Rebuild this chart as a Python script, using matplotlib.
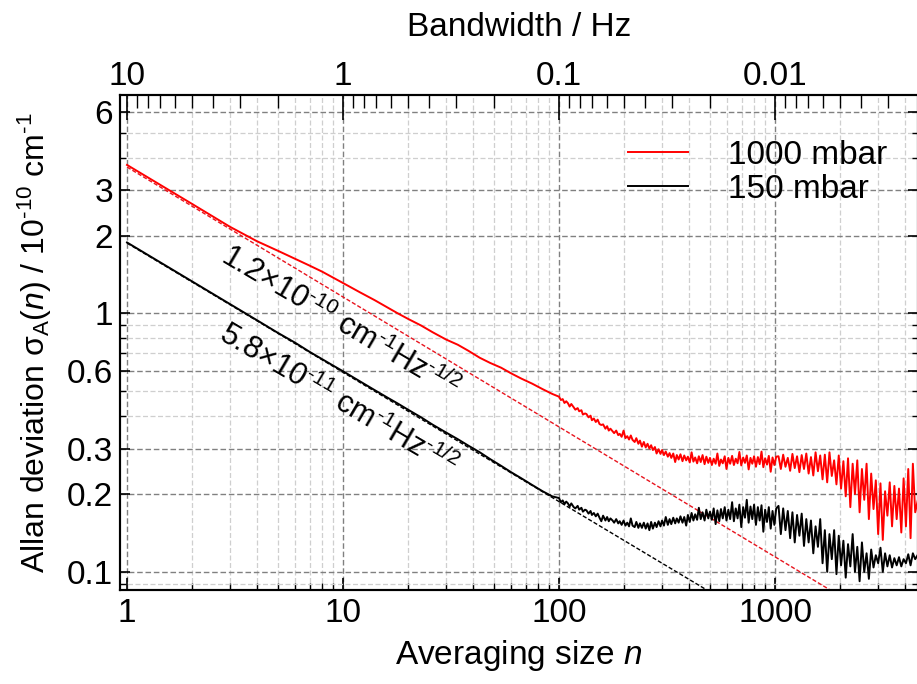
import numpy as np
import matplotlib
matplotlib.use("Agg")
import matplotlib.pyplot as plt
from matplotlib.ticker import LogLocator, NullFormatter

plt.rcParams['font.family'] = ['Liberation Sans', 'DejaVu Sans']
plt.rcParams['mathtext.fontset'] = 'custom'
plt.rcParams['mathtext.rm'] = 'Liberation Sans'
plt.rcParams['mathtext.it'] = 'Liberation Sans:italic'
plt.rcParams['mathtext.bf'] = 'Liberation Sans:bold'

# averaging size n
n_avg = [1, 2, 3, 4, 5, 6, 7, 8, 9, 10, 12, 14, 16, 18, 20, 23, 26, 30, 34, 38,
         43, 48, 54, 60, 67, 75, 84, 93,
         100, 102, 104, 106, 108, 110, 112, 114, 117, 119,
         122, 124, 127, 129, 132, 134, 137, 140, 142, 145,
         148, 151, 154, 157, 160, 164, 167, 170, 173, 177,
         180, 184, 188, 191, 195, 199, 203, 207, 211, 215,
         219, 224, 228, 233, 237, 242, 247, 252, 257, 262,
         267, 272, 278, 283, 289, 295, 300, 306, 312, 319,
         325, 331, 338, 345, 351, 358, 365, 373, 380, 388,
         395, 403, 411, 419, 427, 436, 444, 453, 462, 472,
         481, 491, 500, 510, 520, 531, 541, 552, 562, 573,
         585, 596, 608, 620, 633, 645, 658, 671, 684, 698,
         712, 726, 740, 755, 770, 785, 800, 816, 833, 849,
         866, 883, 900, 918, 936, 955, 974, 993, 1013,
         1038, 1064, 1091, 1118, 1146, 1175, 1204, 1234, 1265, 1297, 1329, 1362,
         1396, 1431, 1467, 1504, 1541, 1580, 1619, 1660, 1701, 1744, 1787, 1832,
         1878, 1925, 1973, 2022, 2073, 2125, 2178, 2232, 2288, 2345, 2404, 2464,
         2526, 2589, 2654, 2720, 2788, 2858, 2929, 3003, 3078, 3155, 3233, 3314,
         3397, 3482, 3569, 3658, 3750, 3843, 3939, 4038, 4139, 4242, 4348, 4457, 4680]

# Allan deviation, 1000 mbar (red)
sig_1000 = [3.75, 2.65, 2.16, 1.90, 1.745, 1.625, 1.53, 1.45, 1.375, 1.31, 1.205,
            1.125, 1.055, 0.998, 0.952, 0.897, 0.845, 0.792, 0.756, 0.717, 0.673,
            0.643, 0.616, 0.586, 0.559, 0.535, 0.509, 0.488,
            0.476, 0.462, 0.466, 0.450, 0.457, 0.449, 0.436, 0.446, 0.433, 0.424,
            0.430, 0.418, 0.422, 0.406, 0.410, 0.408, 0.396, 0.402, 0.386, 0.392,
            0.380, 0.388, 0.373, 0.370, 0.372, 0.358, 0.366, 0.352, 0.358, 0.350,
            0.344, 0.352, 0.338, 0.342, 0.333, 0.352, 0.329, 0.335, 0.325, 0.337,
            0.324, 0.318, 0.329, 0.313, 0.322, 0.305, 0.318, 0.303, 0.313, 0.300,
            0.309, 0.296, 0.304, 0.287, 0.298, 0.286, 0.296, 0.283, 0.292, 0.279,
            0.288, 0.276, 0.287, 0.266, 0.283, 0.272, 0.285, 0.268, 0.282, 0.270,
            0.279, 0.265, 0.290, 0.267, 0.277, 0.263, 0.280, 0.266, 0.283, 0.261,
            0.279, 0.264, 0.276, 0.259, 0.274, 0.262, 0.287, 0.257, 0.272, 0.263,
            0.280, 0.250, 0.276, 0.262, 0.281, 0.259, 0.274, 0.263, 0.291, 0.258,
            0.277, 0.264, 0.282, 0.249, 0.276, 0.262, 0.280, 0.255, 0.278, 0.261,
            0.292, 0.254, 0.275, 0.260, 0.281, 0.244, 0.277, 0.259, 0.279,
            0.280, 0.250, 0.284, 0.255, 0.276, 0.246, 0.286, 0.252, 0.280, 0.243,
            0.283, 0.250, 0.287, 0.240, 0.278, 0.236, 0.290, 0.245, 0.282, 0.228,
            0.284, 0.222, 0.290, 0.235, 0.270, 0.218, 0.282, 0.210, 0.268, 0.196,
            0.275, 0.178, 0.262, 0.200, 0.270, 0.170, 0.250, 0.190, 0.262, 0.160,
            0.240, 0.175, 0.226, 0.140, 0.220, 0.133, 0.205, 0.165, 0.222, 0.150,
            0.215, 0.160, 0.210, 0.142, 0.230, 0.150, 0.250, 0.135, 0.262, 0.170,
            0.205]

# Allan deviation, 150 mbar (black)
sig_150 = [1.88, 1.33, 1.085, 0.94, 0.84, 0.77, 0.71, 0.665, 0.628, 0.597, 0.545,
           0.505, 0.473, 0.447, 0.424, 0.396, 0.371, 0.346, 0.326, 0.308, 0.290,
           0.273, 0.257, 0.243, 0.230, 0.217, 0.205, 0.196,
           0.193, 0.186, 0.189, 0.183, 0.187, 0.184, 0.179, 0.184, 0.178, 0.176,
           0.180, 0.174, 0.177, 0.171, 0.174, 0.173, 0.168, 0.172, 0.166, 0.169,
           0.164, 0.168, 0.162, 0.157, 0.165, 0.158, 0.163, 0.157, 0.161, 0.158,
           0.155, 0.160, 0.154, 0.157, 0.152, 0.158, 0.151, 0.155, 0.150, 0.161,
           0.151, 0.149, 0.156, 0.148, 0.154, 0.148, 0.155, 0.147, 0.154, 0.145,
           0.156, 0.147, 0.155, 0.149, 0.157, 0.150, 0.158, 0.151, 0.163, 0.152,
           0.160, 0.153, 0.162, 0.154, 0.161, 0.155, 0.164, 0.155, 0.163, 0.151,
           0.166, 0.156, 0.169, 0.158, 0.167, 0.159, 0.177, 0.160, 0.170, 0.158,
           0.174, 0.161, 0.171, 0.159, 0.176, 0.153, 0.173, 0.157, 0.175, 0.161,
           0.178, 0.158, 0.174, 0.160, 0.186, 0.157, 0.176, 0.161, 0.182, 0.149,
           0.178, 0.162, 0.190, 0.155, 0.179, 0.160, 0.182, 0.152, 0.178, 0.158,
           0.181, 0.143, 0.174, 0.156, 0.178, 0.147, 0.172, 0.152, 0.176,
           0.180, 0.140, 0.176, 0.145, 0.172, 0.135, 0.170, 0.130, 0.166, 0.138,
           0.168, 0.126, 0.160, 0.130, 0.158, 0.118, 0.150, 0.125, 0.160, 0.108,
           0.145, 0.100, 0.140, 0.112, 0.145, 0.098, 0.138, 0.106, 0.132, 0.095,
           0.128, 0.105, 0.140, 0.100, 0.125, 0.092, 0.130, 0.100, 0.118, 0.094,
           0.122, 0.104, 0.116, 0.108, 0.124, 0.100, 0.118, 0.105, 0.116, 0.104,
           0.113, 0.106, 0.114, 0.105, 0.112, 0.108, 0.117, 0.106, 0.118, 0.112,
           0.120]

# white-noise fits (dashed), end points
fit_n_1000 = [1, 1800]
fit_1000 = [3.68, 0.0851]
fit_n_150 = [1, 480]
fit_150 = [1.87, 0.0854]

x_ticks = [1, 10, 100, 1000]
x_labels = ['1', '10', '100', '1000']
bw_ticks = [10, 1, 0.1, 0.01]
bw_labels = ['10', '1', '0.1', '0.01']
y_ticks = [0.1, 0.2, 0.3, 0.6, 1, 2, 3, 6]
y_labels = ['0.1', '0.2', '0.3', '0.6', '1', '2', '3', '6']

W, H = 917, 684
fig = plt.figure(figsize=(W / 100, H / 100), dpi=100)
ax = fig.add_axes([120 / W, 1 - 590 / H, (918 - 120) / W, (590 - 95) / H])

xmin, xmax = 0.928, 4592
ax.set_xscale('log')
ax.set_yscale('log')
ax.set_xlim(xmin, xmax)
ax.set_ylim(0.0851, 6.99)

ax.plot(fit_n_1000, fit_1000, color='#e8141e', lw=1.0, ls=(0, (3, 1.5)), zorder=3)
ax.plot(fit_n_150, fit_150, color='black', lw=1.0, ls=(0, (3, 1.5)), zorder=3)
ax.plot(n_avg, sig_1000, color='#ff0000', lw=1.4, label='1000 mbar', zorder=4)
ax.plot(n_avg, sig_150, color='black', lw=1.4, label='150 mbar', zorder=4)

ax.set_xticks(x_ticks, x_labels)
ax.set_yticks(y_ticks, y_labels)
ax.xaxis.set_minor_locator(LogLocator(base=10, subs=np.arange(2, 10)))
ax.yaxis.set_minor_locator(LogLocator(base=10, subs=np.arange(2, 10)))
ax.xaxis.set_minor_formatter(NullFormatter())
ax.yaxis.set_minor_formatter(NullFormatter())

ax.grid(which='major', color='#808080', ls=(0, (4, 2)), lw=1.0)
ax.grid(which='minor', color='#cfcfcf', ls=(0, (4, 2)), lw=0.9)
ax.set_axisbelow(True)

ax.tick_params(axis='x', which='major', direction='in', length=9, width=1.2,
               labelsize=24, pad=6, top=False)
ax.tick_params(axis='x', which='minor', direction='in', length=5, width=1.0, top=False)
ax.tick_params(axis='y', which='major', direction='in', length=7, width=1.2,
               labelsize=24, pad=5, right=True)
ax.tick_params(axis='y', which='minor', direction='in', length=4.5, width=1.0, right=True)
for s in ax.spines.values():
    s.set_linewidth(1.5)

ax.set_xlabel('Averaging size $n$', fontsize=24, labelpad=6)
ax.set_ylabel('Allan deviation $\\mathrm{σ_A}(n)$ / 10$^{\\mathrm{‐10}}$ cm$^{\\mathrm{‐1}}$',
              fontsize=23, labelpad=9)

# bandwidth axis on top
ax2 = ax.twiny()
ax2.set_xscale('log')
ax2.set_xlim(10 / xmin, 10 / xmax)
ax2.set_xticks(bw_ticks, bw_labels)
ax2.xaxis.set_minor_locator(LogLocator(base=10, subs=np.arange(2, 10)))
ax2.xaxis.set_minor_formatter(NullFormatter())
ax2.tick_params(axis='x', which='major', direction='in', length=18, width=1.2,
                labelsize=24, pad=2)
ax2.tick_params(axis='x', which='minor', direction='in', length=9, width=1.0)
ax2.set_xlabel('Bandwidth / Hz', fontsize=24, labelpad=18)
for s in ax2.spines.values():
    s.set_linewidth(1.5)

ax.text(9.7, 0.925, '1.2×10$^{\\mathrm{‐10}}$ cm$^{\\mathrm{‐1}}$Hz$^{\\mathrm{‐1/2}}$',
        rotation=-30.5, rotation_mode='anchor', ha='center', va='center',
        fontsize=22, zorder=5)
ax.text(9.5, 0.462, '5.8×10$^{\\mathrm{‐11}}$ cm$^{\\mathrm{‐1}}$Hz$^{\\mathrm{‐1/2}}$',
        rotation=-30.5, rotation_mode='anchor', ha='center', va='center',
        fontsize=22, zorder=5)

ax.legend(loc='upper left', bbox_to_anchor=(0.62, 0.937), frameon=False, fontsize=24,
          handlelength=1.8, handletextpad=1.2, labelspacing=0.1, borderaxespad=0)

fig.savefig('out.png', dpi=100)
